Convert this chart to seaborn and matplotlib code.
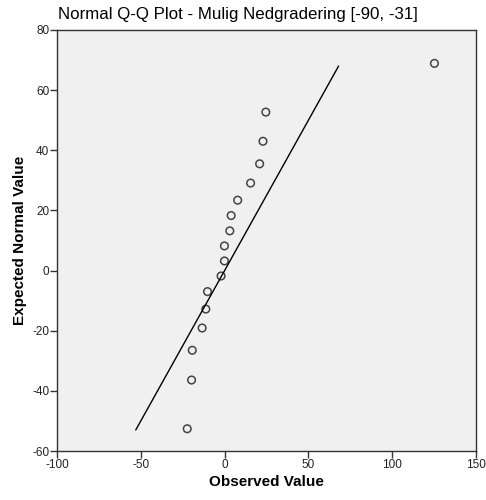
import matplotlib
matplotlib.use("Agg")
import matplotlib.pyplot as plt
import seaborn as sns
import pandas as pd

observed = [24.6, 22.9, 20.9, 15.5, 7.8, 3.9, 3.1, -0.1, -0.1, -2.1, -10.2, -11.2, -13.4, -19.3, -19.7, -22.3, 125.2]
expected = [52.7, 43.0, 35.5, 29.1, 23.4, 18.3, 13.2, 8.2, 3.2, -1.8, -7.0, -12.8, -19.1, -26.5, -36.4, -52.6, 68.9]
line_x = [-53.0, 68.0]
line_y = [-53.0, 68.0]
x_ticks = [-100, -50, 0, 50, 100, 150]
y_ticks = [-60, -40, -20, 0, 20, 40, 60, 80]
title = "Normal Q-Q Plot - Mulig Nedgradering [-90, -31]"

sns.set_style("white")
plt.rcParams['font.family'] = ['Liberation Sans', 'DejaVu Sans']
plt.rcParams['axes.unicode_minus'] = False

df = pd.DataFrame({"Observed Value": observed, "Expected Normal Value": expected})
ref = pd.DataFrame({"x": line_x, "y": line_y})

fig = plt.figure(figsize=(4.86, 5.0), dpi=100)
ax = fig.add_axes([57/486, 49/500, 419/486, 421/500])
ax.set_facecolor("#f0f0f0")

sns.lineplot(data=ref, x="x", y="y", ax=ax, color="black", linewidth=1.0)
sns.scatterplot(data=df, x="Observed Value", y="Expected Normal Value", ax=ax,
                marker="o", s=30, facecolor="none", edgecolor="#444444", linewidth=1.1)

ax.set_xlim(-100, 150)
ax.set_ylim(-60, 80)
ax.set_xticks(x_ticks)
ax.set_yticks(y_ticks)
ax.tick_params(bottom=True, left=True, direction="out", length=5, width=1,
               color="#333333", labelcolor="#222222", labelsize=8.5, pad=0.5)
for s in ax.spines.values():
    s.set_color("#333333")
    s.set_linewidth(1)
ax.set_xlabel("Observed Value", fontsize=11, fontweight="bold", labelpad=3.5, color="black")
ax.set_ylabel("Expected Normal Value", fontsize=11, fontweight="bold", labelpad=4, color="black")
fig.text(58/486, 1 - 15/500, title, fontsize=12.2, ha="left", va="center", color="black")

fig.savefig("out.png", dpi=100, facecolor="white")
